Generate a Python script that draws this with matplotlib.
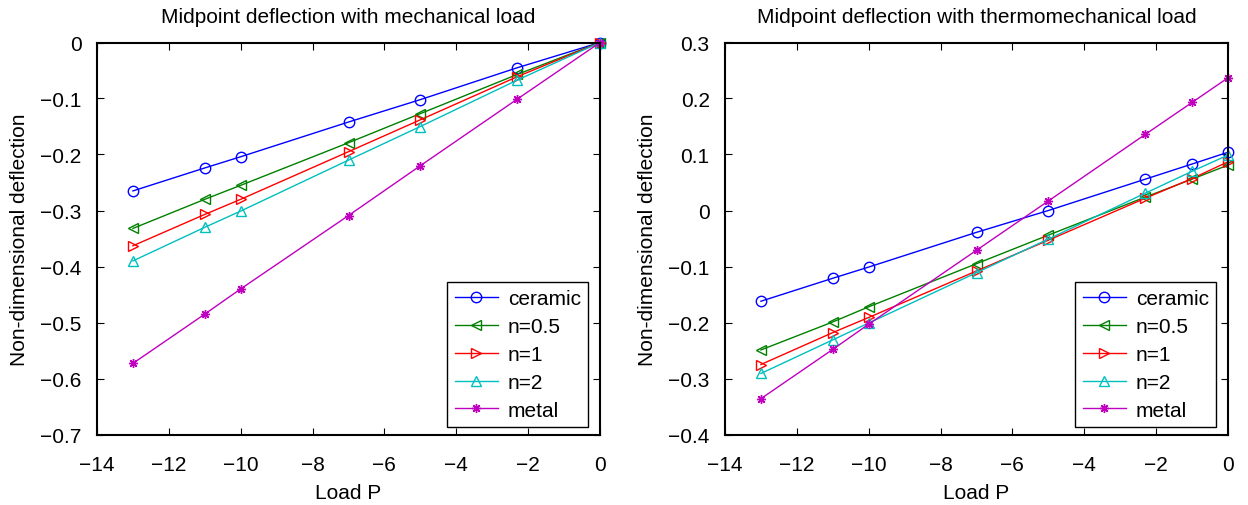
import matplotlib
matplotlib.use("Agg")
import matplotlib.pyplot as plt
from matplotlib.ticker import FuncFormatter, MultipleLocator

plt.rcParams['font.family'] = ['Liberation Sans', 'DejaVu Sans']

# ---- data ----
load_mech = [-13, -11, -10, -7, -5, -2.3, 0]
mech_ceramic = [-0.265, -0.224, -0.204, -0.142, -0.102, -0.045, 0.0]
mech_n05 = [-0.332, -0.280, -0.255, -0.179, -0.127, -0.057, 0.0]
mech_n1 = [-0.363, -0.307, -0.280, -0.195, -0.138, -0.061, 0.0]
mech_n2 = [-0.390, -0.330, -0.301, -0.210, -0.150, -0.067, 0.0]
mech_metal = [-0.573, -0.485, -0.440, -0.309, -0.220, -0.101, 0.0]

load_therm = [-13, -11, -10, -7, -5, -2.3, -1, 0]
therm_ceramic = [-0.162, -0.121, -0.101, -0.039, 0.0, 0.056, 0.083, 0.104]
therm_n05 = [-0.249, -0.199, -0.172, -0.095, -0.044, 0.024, 0.056, 0.081]
therm_n1 = [-0.275, -0.218, -0.191, -0.108, -0.053, 0.022, 0.057, 0.087]
therm_n2 = [-0.291, -0.231, -0.201, -0.111, -0.051, 0.031, 0.070, 0.099]
therm_metal = [-0.336, -0.248, -0.203, -0.071, 0.017, 0.136, 0.193, 0.237]

labels = ['ceramic', 'n=0.5', 'n=1', 'n=2', 'metal']
colors = [(0, 0, 1), (0, 0.5, 0), (1, 0, 0), (0, 0.75, 0.75), (0.75, 0, 0.75)]
markers = ['o', '<', '>', '^', (8, 2, 0)]

W, H = 1248, 506
fig = plt.figure(figsize=(W / 100, H / 100), dpi=100)

def rect(x0, x1, y0, y1):
    return [x0 / W, 1 - y1 / H, (x1 - x0) / W, (y1 - y0) / H]

ax1 = fig.add_axes(rect(97, 600, 43.5, 435.5))
ax2 = fig.add_axes(rect(725, 1228, 43.5, 435.5))

fmt = FuncFormatter(lambda v, p: ('%g' % round(v, 6)).replace('-', '\u2212'))
FS = 15

def draw(ax, x, series, ylim, title):
    for y, lab, c, m in zip(series, labels, colors, markers):
        ms = 7.5 if m != (8, 2, 0) else 6.5
        ax.plot(x, y, color=c, marker=m, markersize=ms, markerfacecolor='none',
                markeredgecolor=c, markeredgewidth=1.0, linewidth=1.0, label=lab,
                clip_on=False)
    ax.set_xlim(-14, 0)
    ax.set_ylim(*ylim)
    ax.xaxis.set_major_locator(MultipleLocator(2))
    ax.yaxis.set_major_locator(MultipleLocator(0.1))
    ax.xaxis.set_major_formatter(fmt)
    ax.yaxis.set_major_formatter(fmt)
    ax.tick_params(direction='in', top=True, right=True, labelsize=FS,
                   length=5, width=0.8)
    ax.tick_params(axis='x', pad=15)
    ax.tick_params(axis='y', pad=11)
    for s in ax.spines.values():
        s.set_linewidth(1.5)
    ax.set_title(title, fontsize=FS, pad=15)
    ax.set_xlabel('Load P', fontsize=FS, labelpad=6)
    ax.set_ylabel('Non-dimensional deflection', fontsize=FS, labelpad=8)
    leg = ax.legend(loc='lower right', bbox_to_anchor=(0.976, 0.019),
                    fontsize=FS, fancybox=False, framealpha=1,
                    edgecolor='black', handlelength=2.1, handletextpad=0.45,
                    borderaxespad=0.0, labelspacing=0.43, borderpad=0.35)
    leg.get_frame().set_linewidth(1.0)

draw(ax1, load_mech, [mech_ceramic, mech_n05, mech_n1, mech_n2, mech_metal],
     (-0.7, 0), 'Midpoint deflection with mechanical load')
draw(ax2, load_therm, [therm_ceramic, therm_n05, therm_n1, therm_n2, therm_metal],
     (-0.4, 0.3), 'Midpoint deflection with thermomechanical load')

fig.savefig('out.png', dpi=100)
